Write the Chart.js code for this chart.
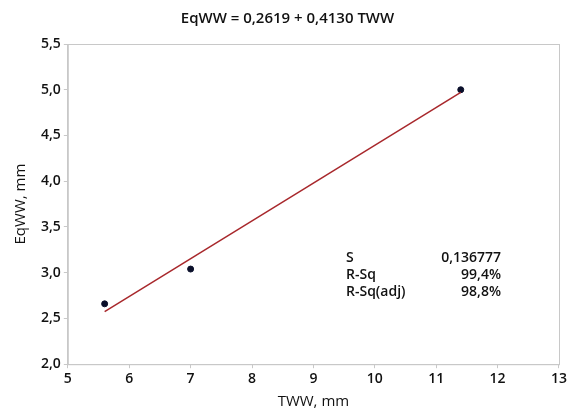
<!DOCTYPE html>
<html lang="pt-br">
<head>
  <meta charset="UTF-8" />
  <title>EqWW vs TWW</title>
  <style>
    html, body { margin: 0; padding: 0; background: #fff; }
    #wrap { width: 569px; height: 411px; }
  </style>
  <script src="https://cdn.jsdelivr.net/npm/chart.js"></script>
</head>
<body>
  <div id="wrap"><canvas id="chart"></canvas></div>
  <script>
    // dados
    const tww = [5.6, 7.0, 11.4];
    const eqww = [2.66, 3.04, 5.0];
    const intercept = 0.2619;
    const slope = 0.4130;
    const statLabels = ['S', 'R-Sq', 'R-Sq(adj)'];
    const statValues = ['0,136777', '99,4%', '98,8%'];

    const pontos = tww.map((x, i) => ({ x: x, y: eqww[i] }));
    const xMin = Math.min(...tww), xMax = Math.max(...tww);
    const linha = [xMin, xMax].map(x => ({ x: x, y: intercept + slope * x }));

    const fonte = "'Open Sans', sans-serif";
    const virgula = v => v.toFixed(1).replace('.', ',');

    // moldura e caixa de estatísticas
    const extras = {
      id: 'extras',
      afterDraw(chart) {
        const { ctx, chartArea: a } = chart;
        ctx.save();
        ctx.strokeStyle = '#c8c8c8';
        ctx.lineWidth = 1;
        ctx.strokeRect(a.left + 0.5, a.top + 0.5, a.right - a.left, a.bottom - a.top);
        ctx.fillStyle = '#111';
        ctx.font = '600 14px ' + fonte;
        ctx.textBaseline = 'middle';
        statLabels.forEach((l, i) => {
          const y = 258 + i * 17;
          ctx.textAlign = 'left';
          ctx.fillText(l, 346, y);
          ctx.textAlign = 'right';
          ctx.fillText(statValues[i], 501, y);
        });
        ctx.restore();
      }
    };

    new Chart(document.getElementById('chart'), {
      type: 'scatter',
      data: {
        datasets: [
          {
            type: 'line',
            data: linha,
            borderColor: '#a8282c',
            borderWidth: 1.5,
            pointRadius: 0,
            fill: false
          },
          {
            data: pontos,
            backgroundColor: '#0a0f2a',
            borderColor: '#0a0f2a',
            pointRadius: 3
          }
        ]
      },
      options: {
        responsive: true,
        maintainAspectRatio: false,
        animation: false,
        layout: { padding: { top: 6, right: 2, left: 8, bottom: 0 } },
        plugins: {
          legend: { display: false },
          tooltip: { enabled: false },
          title: {
            display: true,
            text: 'EqWW = 0,2619 + 0,4130 TWW',
            color: '#111',
            font: { family: fonte, size: 15, weight: '600' },
            padding: { top: 4, bottom: 16 }
          }
        },
        scales: {
          x: {
            type: 'linear',
            min: 5, max: 13,
            ticks: { stepSize: 1, color: '#111', font: { family: fonte, size: 14, weight: '600' }, padding: 2 },
            grid: { drawOnChartArea: false, tickLength: 4, color: '#c8c8c8' },
            border: { color: '#c8c8c8' },
            title: { display: true, text: 'TWW, mm', color: '#111', font: { family: fonte, size: 15 }, padding: { top: 4, bottom: 0 } }
          },
          y: {
            min: 2, max: 5.5,
            ticks: { stepSize: 0.5, color: '#111', font: { family: fonte, size: 14, weight: '600' }, padding: 3, callback: v => virgula(v) },
            grid: { drawOnChartArea: false, tickLength: 4, color: '#c8c8c8' },
            border: { color: '#c8c8c8' },
            title: { display: true, text: 'EqWW, mm', color: '#111', font: { family: fonte, size: 15 }, padding: { bottom: 8 } }
          }
        }
      },
      plugins: [extras]
    });
  </script>
</body>
</html>
